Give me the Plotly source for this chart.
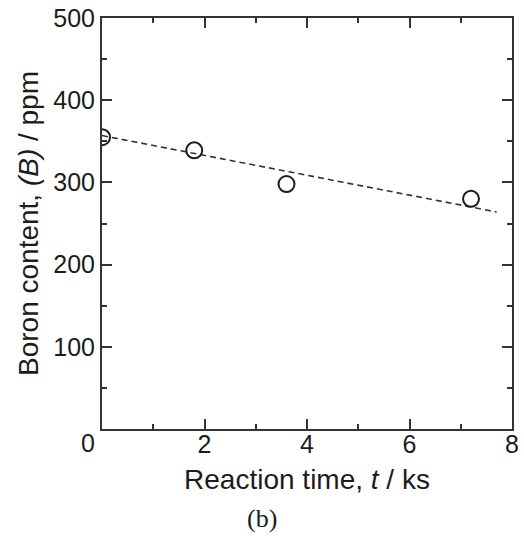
import plotly.graph_objects as go

# measured points
time_ks = [0.0, 1.8, 3.6, 7.2]
boron_ppm = [355, 339, 298, 280]

# dashed trend line (end points)
fit_time = [0.0, 7.7]
fit_boron = [357, 264]

x_ticks = [0, 2, 4, 6, 8]
x_labels = ["", "2", "4", "6", "8"]
y_ticks = [0, 100, 200, 300, 400, 500]
y_labels = ["", "100", "200", "300", "400", "500"]

INK = "#1c1c1c"
AXIS = "#333333"
SANS = "Liberation Sans, Arial, sans-serif"

fig = go.Figure()
fig.add_trace(go.Scatter(
    x=fit_time, y=fit_boron, mode="lines",
    line=dict(color=AXIS, width=1.6, dash="6px,4px"),
    showlegend=False, hoverinfo="skip",
))
fig.add_trace(go.Scatter(
    x=time_ks, y=boron_ppm, mode="markers",
    marker=dict(symbol="circle-open", size=16, color=INK, line=dict(width=2, color=INK)),
    showlegend=False,
))

axis_common = dict(
    showgrid=False, zeroline=False, automargin=False,
    showline=True, linecolor=AXIS, linewidth=2, mirror="ticks",
    ticks="inside", ticklen=10, tickwidth=2, tickcolor=AXIS,
    tickfont=dict(family=SANS, size=25, color=INK),
)

fig.update_xaxes(
    range=[0, 8], tickmode="array", tickvals=x_ticks, ticktext=x_labels,
    ticklabelstandoff=-8,
    minor=dict(tickmode="linear", tick0=0, dtick=1, ticks="inside", ticklen=5,
               tickwidth=2, tickcolor=AXIS),
    title=dict(text="Reaction time, <i>t</i> / ks", standoff=12,
               font=dict(family=SANS, size=28, color=INK)),
    **axis_common,
)
fig.update_yaxes(
    range=[0, 500], tickmode="array", tickvals=y_ticks, ticktext=y_labels,
    minor=dict(tickmode="linear", tick0=0, dtick=50, ticks="inside", ticklen=5,
               tickwidth=2, tickcolor=AXIS),
    title=dict(text="Boron content, <i>(B)</i> / ppm", standoff=6,
               font=dict(family=SANS, size=28, color=INK)),
    **axis_common,
)

# shared origin label sits left of the corner
fig.add_annotation(x=-0.034, y=-0.034, xref="paper", yref="paper", text="0",
                   showarrow=False, xanchor="center", yanchor="middle",
                   font=dict(family=SANS, size=25, color=INK))
# panel label
fig.add_annotation(x=0.39, y=-0.217, xref="paper", yref="paper", text="(b)",
                   showarrow=False, xanchor="center", yanchor="middle",
                   font=dict(family="Liberation Serif, Times New Roman, serif", size=26, color=INK))

fig.update_layout(
    width=524, height=546,
    margin=dict(l=102, r=12, t=18, b=117),
    paper_bgcolor="white", plot_bgcolor="white",
)

fig.write_html("out.html", config={"displayModeBar": False},
               post_script="document.body.style.margin='0';")
